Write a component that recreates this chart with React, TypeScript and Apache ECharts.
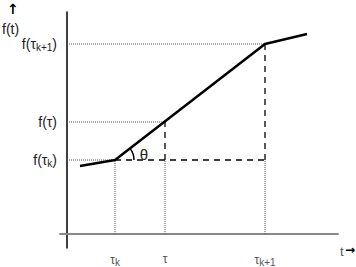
import React, { useEffect, useRef } from "react";
import * as echarts from "echarts";

// x positions (data units) of the marked times
const tickValues = [4.8, 9.8, 19.8];
const tickNames = ["τk", "τ", "τk+1"];
// function values at those times
const levelValues = [7.4, 11.2, 19.0];
const levelNames = ["f(τk)", "f(τ)", "f(τk+1)"];
// piecewise linear curve
const curveX = [1.3, 4.8, 19.8, 24.0];
const curveY = [6.8, 7.4, 19.0, 20.0];

const FONT = "Liberation Sans";

const rich = {
  n: { fontSize: 14, color: "#222", fontFamily: FONT },
  s: { fontSize: 10, color: "#222", fontFamily: FONT, padding: [6, 0, 0, 0] },
  xn: { fontSize: 12, color: "#555", fontFamily: FONT },
  xs: { fontSize: 10, color: "#555", fontFamily: FONT, padding: [4, 0, 0, 0] },
};

function yLabel(i: number) {
  const [a, b] = [["f(τ", "k"], ["f(τ)", ""], ["f(τ", "k+1"]][i];
  return b ? `{n|${a}}{s|${b}}{n|)}` : `{n|${a}}`;
}
function xLabel(i: number) {
  const [a, b] = [["τ", "k"], ["τ", ""], ["τ", "k+1"]][i];
  return b ? `{xn|${a}}{xs|${b}}` : `{xn|${a}}`;
}

export default function App() {
  const ref = useRef<HTMLDivElement>(null);
  useEffect(() => {
    const chart = echarts.init(ref.current!, null, { renderer: "svg" });
    const [tk, t, tk1] = tickValues;
    const [fk, ft, fk1] = levelValues;
    const dotted = { color: "#555", width: 1, type: [1, 1] as any };
    const dashed = { color: "#000", width: 1.3, type: [6, 5] as any };
    const seg = (data: number[][], style: any) => ({
      type: "line",
      data,
      symbol: "none",
      lineStyle: style,
      silent: true,
      z: 1,
    });
    chart.setOption({
      animation: false,
      grid: { left: 60, right: 18, top: 12, bottom: 19 },
      xAxis: {
        type: "value",
        min: -0.7,
        max: 27.1,
        axisLine: { onZero: true, lineStyle: { color: "#888", width: 2 } },
        axisTick: { show: false },
        splitLine: { show: false },
        axisLabel: {
          customValues: tickValues,
          margin: 5,
          formatter: (v: number) => xLabel(tickValues.indexOf(v)),
          rich,
        },
      },
      yAxis: {
        type: "value",
        min: -1.4,
        max: 22.2,
        axisLine: { onZero: true, lineStyle: { color: "#000", width: 1.5 } },
        axisTick: { show: false },
        splitLine: { show: false },
        axisLabel: {
          customValues: levelValues,
          margin: 3,
          formatter: (v: number) => yLabel(levelValues.indexOf(v)),
          rich,
        },
      },
      series: [
        // dotted guides to axes
        seg([[0, fk1], [tk1, fk1]], dotted),
        seg([[0, ft], [t, ft]], dotted),
        seg([[0, fk], [tk, fk]], dotted),
        seg([[tk, 0], [tk, fk]], dotted),
        seg([[t, 0], [t, fk]], dotted),
        seg([[tk1, 0], [tk1, fk]], dotted),
        // dashed construction lines
        seg([[tk, fk], [tk1, fk]], dashed),
        seg([[t, fk], [t, ft]], dashed),
        seg([[tk1, fk], [tk1, fk1]], dashed),
        {
          type: "line",
          data: curveX.map((x, i) => [x, curveY[i]]),
          symbol: "none",
          lineStyle: { color: "#000", width: 2.5 },
          z: 3,
        },
        {
          type: "custom",
          data: [[curveX[1], curveY[1], curveX[2], curveY[2]]],
          z: 4,
          renderItem: (params: any, api: any) => {
            const p0 = api.coord([api.value(0), api.value(1)]);
            const p1 = api.coord([api.value(2), api.value(3)]);
            const ang = Math.atan2(p1[1] - p0[1], p1[0] - p0[0]);
            return {
              type: "group",
              children: [
                {
                  type: "arc",
                  shape: { cx: p0[0], cy: p0[1], r: 19, startAngle: ang, endAngle: 0, clockwise: true },
                  style: { stroke: "#000", fill: "none", lineWidth: 1.5 },
                },
                {
                  type: "text",
                  x: p0[0] + 29,
                  y: p0[1] - 6,
                  style: { text: "θ", fontSize: 15, fontFamily: FONT, fill: "#222", align: "center", verticalAlign: "middle" },
                },
              ],
            };
          },
        },
      ],
      graphic: [
        { type: "text", left: 7, top: 2, style: { text: "↑", fontSize: 14, fontWeight: "bold", fontFamily: "DejaVu Sans", fill: "#000" } },
        { type: "text", left: 2, top: 22, style: { text: "f(t)", fontSize: 14, fontFamily: FONT, fill: "#222" } },
        { type: "text", left: 340, top: 245, style: { text: "t", fontSize: 13, fontFamily: FONT, fill: "#555" } },
        { type: "text", left: 345, top: 244, style: { text: "→", fontSize: 12, fontWeight: "bold", fontFamily: "DejaVu Sans", fill: "#000" } },
      ],
    });
    return () => chart.dispose();
  }, []);
  return <div ref={ref} style={{ width: 356, height: 267, position: "absolute", left: 0, top: 0 }} />;
}
